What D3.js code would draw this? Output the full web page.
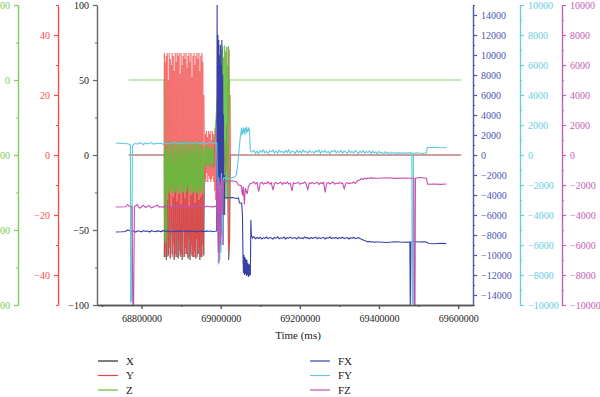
<!DOCTYPE html>
<html>
<head>
<meta charset="utf-8">
<script src="https://cdn.jsdelivr.net/npm/d3@7"></script>
<style>
  body { margin: 0; background: #fff; }
  svg { display: block; }
  svg text { font-family: "Liberation Serif", "DejaVu Serif", serif; }
</style>
</head>
<body>
<svg id="chart" width="600" height="397"></svg>
<script>
function seg(t0, dt, vals) { return vals.map((v, i) => [t0 + i * dt, v]); }

const seriesNames = ["X", "Y", "Z", "FX", "FY", "FZ"];
const seriesColors = ["#2b2b2b", "#f03c3c", "#5fbf3a", "#3a3fa8", "#62c8de", "#c44fb0"];

const xTicks = [68800000, 69000000, 69200000, 69400000, 69600000];
const xMinor = [68700000, 68900000, 69100000, 69300000, 69500000];

const dataX = [].concat(
  [[68767500, 0], [68857000, 0]],
  seg(68857500, 2500, [-68,-25,-70,-30,-67,-20,-69,-35,-66,-28,-70,-22,-68,-31,-69,-26,-67,-33,-70,-24,-68,-29,-66,-21,-69,-34,-70,-27,-67,-23,-68,-32,-69,-25,-66,-30,-70,-28,-68,-26,-67]),
  [[68960000, -5], [68982500, -8], [68985000, 10], [68995000, 40], [69000000, -30], [69005000, 50],
   [69010000, -40], [69015000, 20], [69020000, -70], [69022000, -64], [69025000, 0], [69607500, 0]]
);

const dataY = [].concat(
  [[68767500, 0], [68857000, 0]],
  seg(68857500, 1250, [34,-33,31,-34,33,-28,34,-34,25,-33,34,-31,32,-34,30,-22,34,-34,33,-30,28,-34,34,-33,31,-26,34,-34,33,-29,34,-32,27,-34,34,-33,30,-34,33,-25,
    34,-34,32,-31,34,-33,29,-34,33,-27,34,-34,31,-33,34,-30,26,-34,33,-34,34,-32,30,-34,33,-28,34,-34,32,-33,34,-31,28,-34,33,-34,34,-30,31,-33,20]),
  seg(68958750, 1250, [8,-8,7,-9,8,-6,6,-9,8,-7,7,-8,8,-9,5,-8,8,-7,7,-9]),
  seg(68983750, 1250, [6,-12,9,-15,4,-10,8,-14,5,-8,10,-12,3,-6,2,-5,6,-4,3,-8,5,-3,2,-6,4,-2,3,-5]),
  [[69018750, 36], [69020000, -33], [69021250, 35], [69022500, -30], [69023750, 20], [69025000, 0], [69607500, 0]]
);

const dataZ = [].concat(
  [[68767500, 0], [68857000, 0]],
  seg(68857500, 1250, [-85,-215,-90,-217,-88,-210,-95,-150,-82,-148,-100,-152,-84,-140,-92,-150,-80,-145,-110,-151,-86,-149,-95,-150,-83,-142,-100,-152,-81,-147,-90,-150,-85,-138,-105,-151,-82,-149,-94,-150,
    -80,-146,-98,-152,-86,-150,-84,-141,-102,-151,-81,-148,-92,-150,-87,-139,-96,-152,-83,-149,-85,-150,-100,-144,-82,-151,-90,-150,-84,-143,-97,-152,-81,-148,-93,-150,-86,-140,-99,-151,-88]),
  seg(68958750, 1250, [-90,-114,-88,-116,-92,-110,-87,-115,-95,-112,-89,-116,-91,-108,-88,-114,-93,-116,-90,-111]),
  [[68982500, -95], [69000000, 47]],
  seg(69001250, 1250, [-150,40,-160,45,-120,30,-155,46,-100,38,-158,44,-140,20,-160,45]),
  [[69021250, -60], [69022500, 0], [69607500, 0]]
);

const dataFX = [].concat(
  [[68735000, -7700], [68750000, -7680], [68760000, -7650], [68764000, -7500]],
  seg(68770000, 5000, [-7550,-7650,-7600,-7700,-7580,-7620,-7680,-7560,-7640,-7600,-7700,-7570,-7630,-7660,-7590,-7610,-7680,-7550,-7640,-7600,-7620,-7690,-7580,-7640,-7600,-7660,-7570,-7630,-7610,-7680,-7590,-7620,-7650,-7600,-7700,-7580,-7640,-7610,-7660,-7590,-7630,-7600,-7670,-7620,-7600]),
  seg(68991000, 1000, [15000,-2000,12000,-9000,11500,-6000,10000,-9500,11000,-3000,9000,-8000,11500,-5000,8000,-9000,4000,-6000,-2000,-4300]),
  [[69012000, -4300], [69030000, -4250], [69040000, -4350], [69045000, -4300], [69047500, -4800], [69053000, -4800]],
  seg(69055000, 1250, [-6000,-9800,-11800,-10000,-12000,-10200,-11900,-10400,-12100,-10500,-12000,-10800,-12200,-10900,-12100,-11000,-12000]),
  [[69076250, -6500], [69077500, -8000]],
  seg(69080000, 4000, [-8300,-8180,-8380,-8250,-8350,-8220,-8400,-8280,-8330,-8200,-8360,-8260,-8310,-8400,-8240,-8340,-8190,-8370,-8280,-8320,
    -8230,-8390,-8270,-8310,-8210,-8350,-8300,-8250,-8400,-8220,-8330,-8280,-8360,-8200,-8310,-8270,-8380,-8240,-8330,-8290,
    -8210,-8370,-8260,-8340,-8300,-8230,-8390,-8270,-8320,-8200,-8350,-8280,-8310,-8240,-8380,-8260,-8330,-8210,-8360,-8290,
    -8250,-8400,-8270,-8340,-8230,-8370,-8300,-8260,-8350,-8420,-8500,-8560,-8620,-8680,-8640,-8720,-8660,-8740,-8700]),
  [[69400000, -8700], [69420000, -8750], [69440000, -8680], [69460000, -8720], [69478000, -8700], [69479000, -15000],
   [69481000, -8700], [69490000, -8650], [69500000, -8700], [69515000, -8680], [69520000, -8700], [69525000, -8850],
   [69540000, -8880], [69555000, -8830], [69570000, -8860]]
);

const dataFY = [].concat(
  [[68735000, 800], [68765000, 750], [68770000, 700], [68772000, 650], [68772500, -9800], [68775000, -9700], [68777000, 600]],
  seg(68780000, 5000, [700,780,720,820,760,700,800,740,780,830,720,760,800,750,790,700,820,760,740,800,770,850,780,720,800,760,820,790,740,810,770,800,850,760,790,820,780,740,800,830,790,760,800]),
  seg(68991000, 1000, [-1000,-5000,-2500,-7300,-1500,-6000,-3000,-7000,-2000,-4500,-6500,-1200,-3500,-2000,-5000,-1800,-1500,-1600]),
  [[69012000, -1500], [69018000, -1600], [69024000, -1550], [69030000, -1500], [69036000, -1450], [69040000, -1300],
   [69044000, -400], [69048000, 800], [69050000, 1300]],
  seg(69051250, 1250, [1500,1800,1300,1700,1400,1850,1500,1750,1350,1800,1600,1900,1450,1700,1550,1850,1600,1750]),
  [[69075000, 300], [69077500, 200]],
  seg(69080000, 4000, [200,320,120,260,90,300,180,340,150,250,110,290,210,330,140,270,100,310,190,240,
    130,300,170,350,120,260,220,90,310,160,280,140,330,190,250,100,300,170,240,130,
    290,200,340,110,260,180,310,150,230,90,280,210,320,140,250,170,300,120,270,190,
    100,310,160,240,130,290,200,80,260,150,300,120,230,170,280,90,250,140,210,60,
    240,130,190,50,220,110,170,40,200,120,160,70,190,100,150,60,180,110,140]),
  [[69483000, 150], [69484000, -9900], [69486000, -9900], [69487000, 100], [69495000, 150], [69510000, 100],
   [69520000, 150], [69522000, 500], [69540000, 520], [69555000, 480], [69570000, 500]]
);

const dataFZ = [].concat(
  [[68735000, -3470], [68760000, -3450], [68765000, -3300], [68768000, -3400], [68776000, -3450], [68778000, -10000],
   [68780000, -10000], [68782000, -3400]],
  seg(68785000, 5000, [-3400,-3300,-3550,-3450,-3350,-3500,-3420,-3380,-3520,-3460,-3400,-3350,-3480,-3440,-3500,-3380,-3460,-3420,-3520,-3400,-3450,-3380,-3500,-3430,-3470,-3400,-3360,-3480,-3450,-3410,-3500,-3440,-3380,-3460,-3420,-3480,-3400,-3450,-3430,-3470,-3410,-3450]),
  seg(68991000, 1000, [-2000,-5000,-1400,-6500,-2500,-7200,-1800,-4500,-3000,-6000,-1500,-3500,-2200,-4000,-1700,-2500,-1800,-1700]),
  [[69010000, -1730], [69020000, -1750], [69030000, -1720], [69040000, -1800], [69045000, -2000], [69052000, -2050],
   [69055000, -2700], [69057000, -2100], [69060000, -3300], [69062000, -2200], [69067000, -2600], [69070000, -2100], [69075000, -1900]],
  seg(69080000, 4000, [-1870,-1800,-1930,-1840,-2450,-1880,-1820,-1950,-1860,-1900,-1790,-1940,-1850,-2350,-1880,-1830,-1920,-1870,-1810,-1960,
    -1850,-1900,-1800,-1930,-1880,-2400,-1840,-1910,-1860,-1820,-1950,-1870,-1900,-1800,-1940,-2300,-1860,-1890,-1830,-1920,
    -1870,-1810,-1960,-1850,-1900,-1820,-2500,-1880,-1840,-1930,-1860,-1800,-1950,-1870,-1910,-1830,-1900,-1860,-2250,-1890,
    -1840,-1920,-1850,-1880,-1800,-1900,-1760,-1700,-1650,-1580,-1620,-1540,-1600,-1520,-1580,-1500,-1560,-1530,-1550]),
  [[69400000, -1550], [69420000, -1520], [69440000, -1560], [69460000, -1530], [69480000, -1550], [69488000, -1560],
   [69489000, -10000], [69491000, -10000], [69492000, -1550], [69505000, -1500], [69520000, -1550], [69523000, -1950],
   [69540000, -1930], [69555000, -1960], [69570000, -1930]]
);

const svg = d3.select("#chart");
const plotTop = 5, plotBottom = 305, plotLeft = 97, plotRight = 473;

const x = d3.scaleLinear().domain([68687500, 69637500]).range([plotLeft, plotRight]);
const yX = d3.scaleLinear().domain([-100, 100]).range([plotBottom, plotTop]);
const yY = d3.scaleLinear().domain([-50, 50]).range([plotBottom, plotTop]);
const yZ = d3.scaleLinear().domain([-300, 100]).range([plotBottom, plotTop]);
const yFX = d3.scaleLinear().domain([-15000, 15000]).range([plotBottom, plotTop]);
const yFY = d3.scaleLinear().domain([-10000, 10000]).range([plotBottom, plotTop]);
const yFZ = d3.scaleLinear().domain([-10000, 10000]).range([plotBottom, plotTop]);

const seriesData = [dataX, dataY, dataZ, dataFX, dataFY, dataFZ];
const seriesScales = [yX, yY, yZ, yFX, yFY, yFZ];
const seriesWidths = [0.8, 0.7, 0.8, 1.1, 1.1, 1.1];
const seriesOpacity = [0.7, 0.75, 0.9, 1, 1, 1];

seriesData.forEach((d, i) => {
  const line = d3.line().x(p => x(p[0])).y(p => seriesScales[i](p[1]));
  svg.append("path")
    .attr("d", line(d))
    .attr("fill", "none")
    .attr("stroke", seriesColors[i])
    .attr("stroke-width", seriesWidths[i])
    .attr("stroke-opacity", seriesOpacity[i]);
});

function range(a, b, s) { const r = []; for (let v = a; v <= b + 1e-9; v += s) r.push(v); return r; }

function yAxis(scale, xpos, side, major, minor, color, labelColor) {
  const make = side === "left" ? d3.axisLeft : d3.axisRight;
  const gMinor = svg.append("g").attr("transform", "translate(" + xpos + ",0)")
    .call(make(scale).tickValues(minor).tickSize(2).tickSizeOuter(0).tickFormat(""));
  const g = svg.append("g").attr("transform", "translate(" + xpos + ",0)")
    .call(make(scale).tickValues(major).tickSize(4).tickSizeOuter(0).tickPadding(4).tickFormat(d3.format("d")));
  [g, gMinor].forEach(a => {
    a.attr("font-family", null).attr("font-size", null);
    a.selectAll("path, line").attr("stroke", color).attr("stroke-width", 1.2);
    a.selectAll("text").attr("fill", labelColor || color).attr("font-size", 10)
      .style("font-family", "'Liberation Serif', serif");
  });
}

yAxis(yZ, 18, "left", [-300, -200, -100, 0, 100], [-250, -150, -50, 50], "#7dcc55");
yAxis(yY, 58, "left", [-40, -20, 0, 20, 40], [-50, -30, -10, 10, 30, 50], "#ff4a4a");
yAxis(yX, 97, "left", [-100, -50, 0, 50, 100], [-75, -25, 25, 75], "#666666", "#222");
yAxis(yFX, 473, "right", range(-14000, 14000, 2000), range(-15000, 15000, 2000), "#4a55b5");
yAxis(yFY, 520, "right", range(-10000, 10000, 2000), range(-9000, 9000, 2000), "#66cde0");
yAxis(yFZ, 562, "right", range(-10000, 10000, 2000), range(-9000, 9000, 2000), "#c460b4");

// x axis
const gxMinor = svg.append("g").attr("transform", "translate(0," + plotBottom + ")")
  .call(d3.axisBottom(x).tickValues(xMinor).tickSize(2).tickSizeOuter(0).tickFormat(""));
const gx = svg.append("g").attr("transform", "translate(0," + plotBottom + ")")
  .call(d3.axisBottom(x).tickValues(xTicks).tickSize(4).tickSizeOuter(0).tickPadding(6).tickFormat(d3.format("d")));
[gx, gxMinor].forEach(a => {
  a.attr("font-family", null).attr("font-size", null);
  a.selectAll("path, line").attr("stroke", "#555").attr("stroke-width", 1.4);
  a.selectAll("text").attr("fill", "#222").attr("font-size", 10)
    .style("font-family", "'Liberation Serif', serif");
});

svg.append("text")
  .attr("x", 298).attr("y", 339)
  .attr("text-anchor", "middle")
  .attr("font-size", 11).attr("fill", "#222")
  .text("Time (ms)");

// legend
const legend = svg.append("g");
seriesNames.forEach((name, i) => {
  const col = Math.floor(i / 3), row = i % 3;
  const lx = col === 0 ? 98 : 310;
  const ly = 361 + row * 14.5;
  legend.append("line")
    .attr("x1", lx).attr("x2", lx + 20).attr("y1", ly).attr("y2", ly)
    .attr("stroke", seriesColors[i]).attr("stroke-width", 1.2);
  legend.append("text")
    .attr("x", lx + 28).attr("y", ly + 3.5)
    .attr("font-size", 11).attr("fill", "#222")
    .text(name);
});
</script>
</body>
</html>
